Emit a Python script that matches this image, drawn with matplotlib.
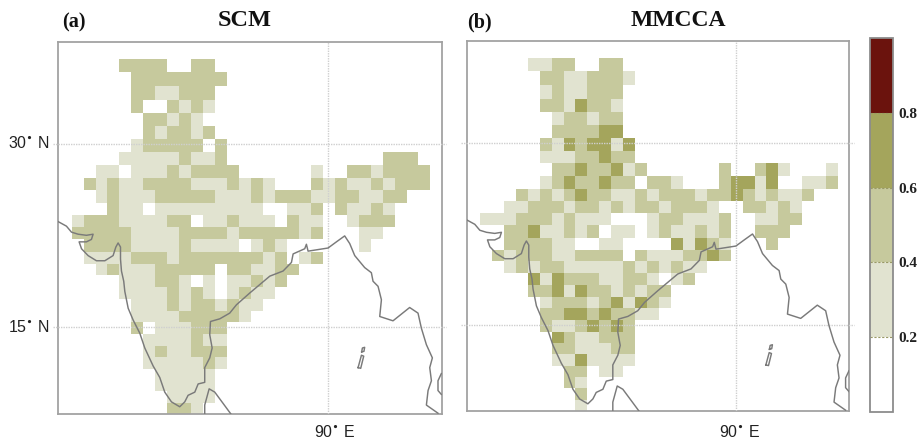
import numpy as np
import matplotlib
matplotlib.use("Agg")
import matplotlib.pyplot as plt
from matplotlib.colors import ListedColormap, BoundaryNorm

# correlation class per 1 degree cell, north to south
# . below 0.2 or no data, 1 = 0.2-0.4, 2 = 0.4-0.6, 3 = 0.6-0.8
scm_rows = [
    "....2222..22",
    ".....22222222",
    ".....2211222",
    ".....2..2121",
    "......22121",
    "......212212",
    ".....122222.2",
    "....111112112.............222",
    "..11.111212222......1..2212222",
    ".2121122221112121...2121121222",
    "..12111222221112122211221122",
    "...211.111111111..112.21121",
    "1222111122.112111.211..1222",
    "222221111222212222212...11",
    ".2222111121111.121......1",
    ".11112221222222212.12",
    "..1211122222.221122",
    "....111221.1.11212",
    "....11112121.1211",
    ".....11121221211",
    ".....1111222221",
    ".....2.111222",
    "......1111211",
    "......1211222",
    "......1111121",
    ".......11111",
    ".......11111",
    "........1111",
    "........221",
]
mmcca_rows = [
    "....1122..22",
    ".....22112221",
    ".....1211222",
    ".....2213221",
    "......122122",
    "......222233",
    ".....21323313",
    ".....11122322",
    "......22322312......2..231...1",
    ".....12322322.221...23313..112",
    "...2121232211212221223212112",
    "..112221221212212221..22121",
    "11122212111...1221112..1122",
    "..22311212.11.1211212..222",
    "..222211..11....31321...2",
    ".21222112222.21112232",
    "..12122111112121211",
    "....31322211221.12",
    "....223132212122",
    ".....12221231321",
    ".....2233232211",
    ".....21123232",
    "......3211222",
    "......2211122",
    "......1131111",
    ".......22.11",
    ".......21",
    "........2",
    "........1",
]
class_values = {".": np.nan, "1": 0.3, "2": 0.5, "3": 0.7}

lon_edges = 68.56 + np.arange(31)
lat_edges = 36.4 - np.arange(30)

levels = [0, 0.2, 0.4, 0.6, 0.8, 1.0]
colors = ["#ffffff", "#e1e3d0", "#c6c99d", "#a4a55c", "#6b130d"]
cbar_labels = ["0.2", "0.4", "0.6", "0.8"]

# coastlines, lon / lat
coast_lon = [67.44, 68.13, 68.55, 69.11, 69.8, 70.36, 70.22, 69.8, 69.19, 69.39, 69.94, 70.64,
             71.34, 72.03, 72.26, 72.45, 72.65, 72.65, 72.73, 72.92, 73.01, 73.29, 73.7, 74.26,
             74.68, 75.38, 75.93, 76.35, 76.91, 77.6, 78.02, 78.3, 78.86, 79.14, 79.69, 79.69,
             80.11, 80.31, 80.11, 80.17, 80.95, 81.78, 82.34, 83.45, 85.13, 86.24, 86.94, 87.08,
             88.05, 88.19, 88.33, 90.0, 90.7, 91.39, 91.81, 92.23, 93.06, 93.62, 93.76, 94.18,
             94.46, 94.32, 95.43, 96.82, 97.52, 97.8, 98.22, 98.72, 98.5, 98.64, 98.36, 98.22, 99.19]
coast_lat = [23.86, 23.49, 23.0, 22.83, 22.74, 22.83, 22.4, 22.2, 22.2, 21.63, 21.06, 20.63,
             20.63, 21.06, 21.77, 22.11, 21.77, 20.77, 19.77, 18.91, 18.05, 16.62, 15.62, 14.48,
             13.19, 11.62, 10.62, 9.33, 8.47, 8.04, 8.47, 9.05, 9.33, 10.05, 10.19, 11.48,
             12.33, 13.19, 14.34, 15.48, 15.71, 16.2, 16.91, 17.91, 19.34, 19.77, 20.49, 21.2,
             21.63, 22.0, 21.43, 21.69, 22.2, 22.69, 22.06, 21.06, 20.06, 19.63, 18.91, 18.48,
             17.34, 15.91, 15.54, 16.68, 16.2, 14.91, 13.48, 12.33, 11.48, 10.33, 9.47, 8.19, 7.47]
lanka_lon = [79.69, 79.69, 80.06, 80.53, 81.23, 81.87]
lanka_lat = [7.41, 8.19, 9.62, 9.33, 8.33, 7.41]
east_lon = [99.47, 99.19, 99.19, 99.47]
east_lat = [10.96, 10.33, 9.47, 9.13]
andaman_lon = [92.51, 92.79, 92.98, 92.73, 92.51]
andaman_lat = [11.48, 12.56, 12.48, 11.42, 11.48]
nicobar_lon = [92.81, 92.87, 93.06, 93.0, 92.81]
nicobar_lat = [12.85, 13.19, 13.25, 12.9, 12.85]


def merc(lat):
    return np.log(np.tan(np.pi / 4 + np.radians(lat) / 2))


def merc_inv(y):
    return np.degrees(2 * np.arctan(np.exp(y)) - np.pi / 2)


def to_grid(rows):
    return np.array([[class_values[c] for c in r.ljust(30, ".")] for r in rows])


W, H = 920, 444
fig = plt.figure(figsize=(W / 100, H / 100), dpi=100)
plt.rcParams["font.family"] = ["Liberation Sans"]

cmap = ListedColormap(colors)
norm = BoundaryNorm(levels, cmap.N)


def draw_panel(box, rows):
    left, right, top, bottom = box
    ax = fig.add_axes([left / W, 1 - bottom / H, (right - left) / W, (bottom - top) / H])
    ax.set_yscale("function", functions=(merc, merc_inv))
    mesh = ax.pcolormesh(lon_edges, lat_edges, to_grid(rows), cmap=cmap, norm=norm, antialiased=False)
    ax.set_xlim(67.45, 99.5)
    ax.set_ylim(7.4, 37.6)
    for lat in [30, 15]:
        ax.plot([67.0, 99.9], [lat, lat], color="#cfcfcf", lw=1.0, ls=(0, (1, 0.8)), clip_on=False, zorder=3)
    ax.plot([90, 90], [7.4, 37.6], color="#cfcfcf", lw=1.0, ls=(0, (1, 0.8)), zorder=3)
    for xs, ys in [(coast_lon, coast_lat), (lanka_lon, lanka_lat), (east_lon, east_lat),
                   (andaman_lon, andaman_lat), (nicobar_lon, nicobar_lat)]:
        ax.plot(xs, ys, color="#7a7a7a", lw=1.05, zorder=4)
    ax.set_xticks([])
    ax.set_yticks([])
    ax.minorticks_off()
    for s in ax.spines.values():
        s.set_color("#a2a2a2")
        s.set_linewidth(1.3)
    return ax, mesh


ax1, mesh1 = draw_panel((58.3, 441.7, 41.7, 414), scm_rows)
ax2, mesh2 = draw_panel((466.7, 849.3, 41, 411), mmcca_rows)

cax = fig.add_axes([870 / W, 1 - 411.7 / H, 22.7 / W, 373.4 / H])
cb = fig.colorbar(mesh2, cax=cax, ticks=[0.2, 0.4, 0.6, 0.8], spacing="proportional")
cb.ax.set_yticklabels(cbar_labels, family="Liberation Serif", fontweight="bold", fontsize=11, color="#222222")
cb.ax.tick_params(length=0, pad=4)
cb.ax.minorticks_off()
cb.outline.set_edgecolor("#8c8c8c")
cb.outline.set_linewidth(1.3)
for v in [0.2, 0.4, 0.6, 0.8]:
    cb.ax.plot([0, 1], [v, v], color="#999966", lw=0.8, ls=(0, (2, 1.5)))


def label(x, y, s, **kw):
    fig.text(x / W, 1 - y / H, s, va="center", **kw)


serif = dict(family="Liberation Serif", fontweight="bold", color="#111111")
label(62, 22, "(a)", fontsize=14.5, **serif)
label(218, 20, "SCM", fontsize=17.5, **serif)
label(467, 22, "(b)", fontsize=14.5, **serif)
label(631, 20, "MMCCA", fontsize=17, **serif)

sans = dict(color="#222222", fontsize=11.5)
label(8, 143, r"30$^{\bullet}$ N", **sans)
label(8, 327, r"15$^{\bullet}$ N", **sans)
label(314, 432, r"90$^{\bullet}$ E", **sans)
label(719, 432, r"90$^{\bullet}$ E", **sans)

plt.savefig("out.png", dpi=100)
